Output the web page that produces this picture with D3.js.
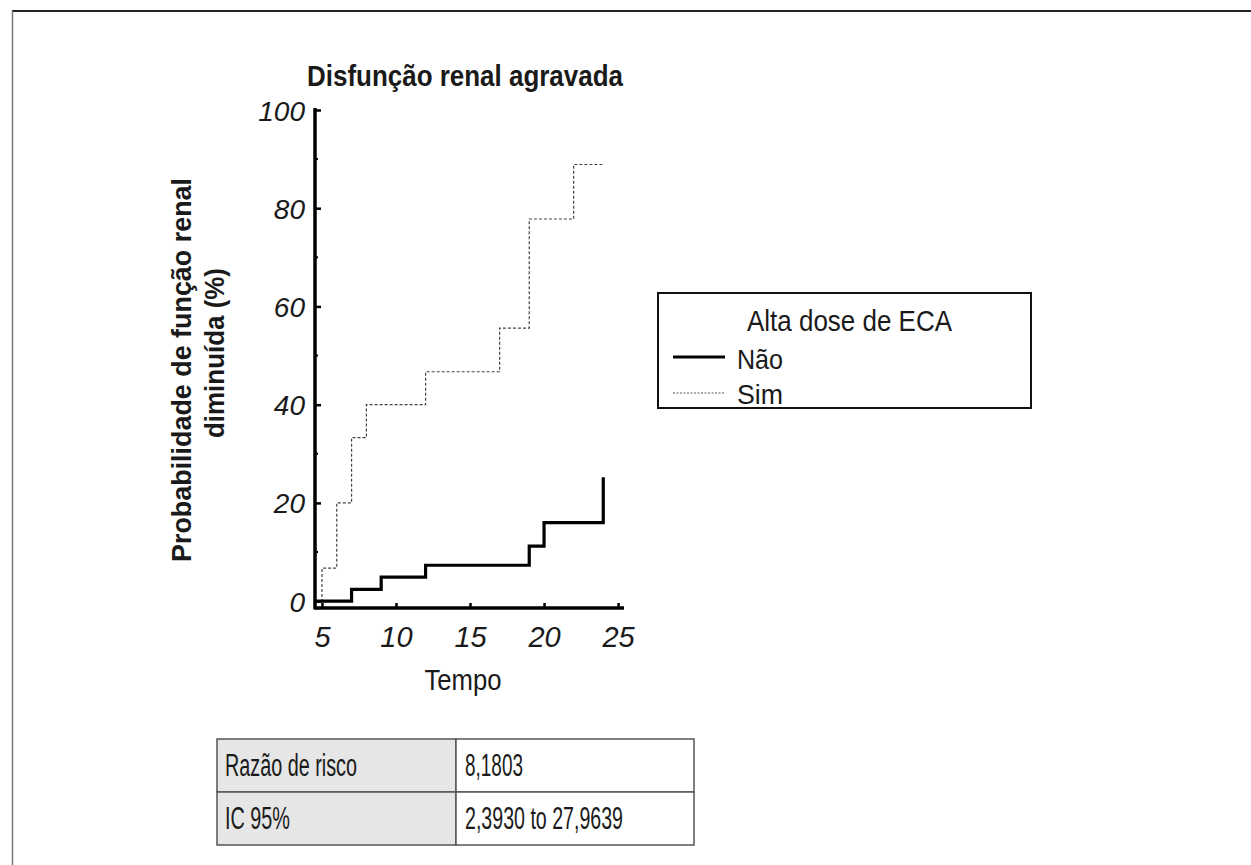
<!DOCTYPE html>
<html>
<head>
<meta charset="utf-8">
<script src="https://cdn.jsdelivr.net/npm/d3@7"></script>
<style>
  body { margin: 0; background: #fff; }
  svg { display: block; font-family: "Liberation Sans", Arial, sans-serif; }
</style>
</head>
<body>
<div id="chart"></div>
<script>
// Kaplan-Meier style step data (time, % with reduced renal function)
var naoTimes = [4.6, 7, 9, 12, 19, 20, 24];
var naoValues = [0, 2.4, 4.9, 7.3, 11.2, 16.0, 25.2];
var simTimes = [4.6, 5, 6, 7, 8, 12, 17, 19, 22, 24];
var simValues = [0, 6.7, 20, 33.3, 40, 46.7, 55.6, 77.8, 88.9, 88.9];

var yTicks = [0, 20, 40, 60, 80, 100];
var yMinorTicks = [10, 30, 50, 70, 90];
var xTicks = [5, 10, 15, 20, 25];

var titleText = "Disfunção renal agravada";
var yLabelLines = ["Probabilidade de função renal", "diminuída (%)"];
var xLabelText = "Tempo";
var legendTitle = "Alta dose de ECA";
var legendNames = ["Não", "Sim"];
var tableRows = [["Razão de risco", "8,1803"], ["IC 95%", "2,3930 to 27,9639"]];

var W = 1251, H = 865;
var svg = d3.select("#chart").append("svg")
    .attr("width", W)
    .attr("height", H);

// outer frame (only top and left edges visible)
svg.append("line").attr("x1", 12).attr("x2", W).attr("y1", 11).attr("y2", 11)
    .style("stroke", "#222").style("stroke-width", 2);
svg.append("line").attr("x1", 12.5).attr("x2", 12.5).attr("y1", 11).attr("y2", H)
    .style("stroke", "#777").style("stroke-width", 1.5);

var x = d3.scaleLinear().domain([4.53, 25.4]).range([315, 624]);
var y = d3.scaleLinear().domain([-1.4, 100.4]).range([608, 108]);

// helper for text squeezed to the reference width
function addText(g, str, opts) {
    var t = g.append("text")
        .text(str)
        .attr("x", opts.x)
        .attr("y", opts.y)
        .style("font-size", opts.size + "px")
        .style("fill", "#1a1a1a");
    if (opts.anchor) t.style("text-anchor", opts.anchor);
    if (opts.weight) t.style("font-weight", opts.weight);
    if (opts.italic) t.style("font-style", "italic");
    if (opts.len) t.attr("textLength", opts.len).attr("lengthAdjust", "spacingAndGlyphs");
    if (opts.transform) t.attr("transform", opts.transform);
    return t;
}

// title
addText(svg, titleText, {x: 465, y: 86, size: 30, weight: "bold", anchor: "middle", len: 316});

// y axis
var yAxisG = svg.append("g")
    .attr("transform", "translate(315,0)")
    .call(d3.axisLeft(y).tickValues(yTicks).tickSize(-6).tickPadding(10).tickFormat(d3.format("d")));
yAxisG.select(".domain").remove();
yAxisG.selectAll(".tick line").style("stroke", "#000").style("stroke-width", 2.5);
yAxisG.selectAll(".tick text")
    .style("font-size", "28px")
    .style("font-style", "italic")
    .style("font-family", "'Liberation Sans', Arial, sans-serif")
    .style("fill", "#1a1a1a")
    .attr("dy", "0.36em");
yAxisG.selectAll(".minor")
    .data(yMinorTicks)
    .enter()
    .append("line")
    .attr("class", "minor")
    .attr("x1", 0).attr("x2", 3)
    .attr("y1", d => y(d)).attr("y2", d => y(d))
    .style("stroke", "#000").style("stroke-width", 2);
svg.append("line")
    .attr("x1", 315).attr("x2", 315)
    .attr("y1", y.range()[1]).attr("y2", y.range()[0] + 1.5)
    .style("stroke", "#000").style("stroke-width", 3.5);

// x axis
var xAxisG = svg.append("g")
    .attr("transform", "translate(0," + y.range()[0] + ")")
    .call(d3.axisBottom(x).tickValues(xTicks).tickSize(-5).tickPadding(18).tickFormat(d3.format("d")));
xAxisG.select(".domain").remove();
xAxisG.selectAll(".tick line").style("stroke", "#000").style("stroke-width", 2.5);
xAxisG.selectAll(".tick text")
    .style("font-size", "29px")
    .style("font-style", "italic")
    .style("font-family", "'Liberation Sans', Arial, sans-serif")
    .style("fill", "#1a1a1a");
svg.append("line")
    .attr("x1", 315).attr("x2", x.range()[1])
    .attr("y1", y.range()[0]).attr("y2", y.range()[0])
    .style("stroke", "#000").style("stroke-width", 3.5);

// axis labels
addText(svg, xLabelText, {x: 463, y: 690, size: 30, anchor: "middle", len: 77});
addText(svg, yLabelLines[0], {x: 0, y: 0, size: 28, weight: "bold", anchor: "middle", len: 384,
    transform: "translate(191,370) rotate(-90)"});
addText(svg, yLabelLines[1], {x: 0, y: 0, size: 28, weight: "bold", anchor: "middle", len: 170,
    transform: "translate(224,353) rotate(-90)"});

// curves
var stepLine = d3.line()
    .x(d => x(d[0]))
    .y(d => y(d[1]))
    .curve(d3.curveStepAfter);

svg.append("path")
    .datum(d3.zip(simTimes, simValues))
    .attr("d", stepLine)
    .style("fill", "none")
    .style("stroke", "#444")
    .style("stroke-width", 1.2)
    .style("stroke-dasharray", "3,2");

svg.append("path")
    .datum(d3.zip(naoTimes, naoValues))
    .attr("d", stepLine)
    .style("fill", "none")
    .style("stroke", "#000")
    .style("stroke-width", 3.2);

// legend
var legendG = svg.append("g");
legendG.append("rect")
    .attr("x", 658).attr("y", 293)
    .attr("width", 373).attr("height", 115)
    .style("fill", "#fff")
    .style("stroke", "#111")
    .style("stroke-width", 2);
addText(legendG, legendTitle, {x: 747, y: 331, size: 30, len: 205});
var legendStyles = [
    {stroke: "#000", width: 2.8, dash: null, y: 357, ty: 369},
    {stroke: "#555", width: 1, dash: "2,1.5", y: 393, ty: 404}
];
legendNames.forEach((name, i) => {
    var s = legendStyles[i];
    legendG.append("line")
        .attr("x1", 673).attr("x2", 725)
        .attr("y1", s.y).attr("y2", s.y)
        .style("stroke", s.stroke)
        .style("stroke-width", s.width)
        .style("stroke-dasharray", s.dash);
    addText(legendG, name, {x: 737, y: s.ty, size: 28, len: 46});
});

// table
var tableG = svg.append("g");
var colX = [217, 456, 694];
var rowY = [739, 792, 845];
tableRows.forEach((row, r) => {
    row.forEach((cell, c) => {
        tableG.append("rect")
            .attr("x", colX[c]).attr("y", rowY[r])
            .attr("width", colX[c + 1] - colX[c])
            .attr("height", rowY[r + 1] - rowY[r])
            .style("fill", c === 0 ? "#e6e6e6" : "#fff")
            .style("stroke", "#555")
            .style("stroke-width", 1.5);
    });
});
var cellLens = [[132, 58], [65, 158]];
tableRows.forEach((row, r) => {
    row.forEach((cell, c) => {
        addText(tableG, cell, {x: colX[c] + (c === 0 ? 8 : 9), y: rowY[r] + 37, size: 31, len: cellLens[r][c]});
    });
});
</script>
</body>
</html>
